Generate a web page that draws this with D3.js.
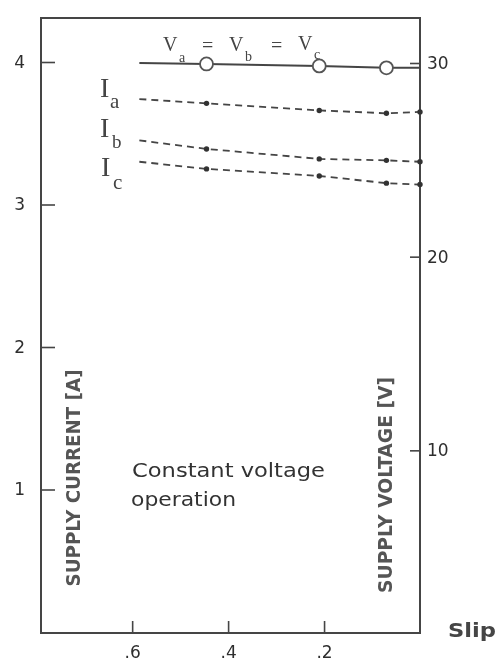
<!DOCTYPE html>
<html>
<head>
<meta charset="utf-8">
<script src="https://cdn.jsdelivr.net/npm/d3@7"></script>
<style>
  body { margin: 0; background: #fff; }
  svg { display: block; }
</style>
</head>
<body>
<svg id="chart" width="500" height="666"></svg>
<script>
// Measured points along the slip axis (slip decreases to the right)
const slip = [0.585, 0.445, 0.21, 0.07, 0];
// Supply voltage Va = Vb = Vc [V]
const voltage = [30.0, 29.95, 29.85, 29.75, 29.75];
// Phase supply currents [A]
const currentA = [3.74, 3.71, 3.66, 3.64, 3.65];
const currentB = [3.45, 3.39, 3.32, 3.31, 3.30];
const currentC = [3.30, 3.25, 3.20, 3.15, 3.14];

const slipTicks = [0.6, 0.4, 0.2];
const slipTickLabels = [".6", ".4", ".2"];
const currentTicks = [1, 2, 3, 4];
const voltageTicks = [10, 20, 30];

const ink = "#454545";
const svg = d3.select("#chart");

// soft scanned look
svg.append("defs").append("filter").attr("id", "soft")
  .append("feGaussianBlur").attr("stdDeviation", 0.55);
const g = svg.append("g").attr("filter", "url(#soft)");

const frameL = 41, frameR = 420, frameT = 18, frameB = 633;

const x = d3.scaleLinear().domain([0.79, 0]).range([frameL, frameR]);
const yI = d3.scaleLinear().domain([0, 4]).range([632, 62]);
const yV = d3.scaleLinear().domain([0, 30]).range([644, 63]);

// frame
g.append("rect")
  .attr("x", frameL).attr("y", frameT)
  .attr("width", frameR - frameL).attr("height", frameB - frameT)
  .attr("fill", "none").attr("stroke", ink).attr("stroke-width", 2);

const sans = "'DejaVu Sans', sans-serif";
const serif = "'Liberation Serif', 'DejaVu Serif', serif";

// left axis: supply current
const axL = g.append("g").attr("transform", `translate(${frameL},0)`)
  .call(d3.axisLeft(yI).tickValues(currentTicks).tickFormat(d3.format("d"))
    .tickSizeInner(-14).tickSizeOuter(0).tickPadding(16));
axL.select(".domain").remove();

// right axis: supply voltage
const axR = g.append("g").attr("transform", `translate(${frameR},0)`)
  .call(d3.axisRight(yV).tickValues(voltageTicks).tickFormat(d3.format("d"))
    .tickSizeInner(-10).tickSizeOuter(0).tickPadding(7));
axR.select(".domain").remove();

// bottom axis: slip
const axB = g.append("g").attr("transform", `translate(0,${frameB})`)
  .call(d3.axisBottom(x).tickValues(slipTicks)
    .tickFormat((d, i) => slipTickLabels[i])
    .tickSizeInner(-12).tickSizeOuter(0).tickPadding(13));
axB.select(".domain").remove();

[axL, axR, axB].forEach(a => {
  a.selectAll("line").attr("stroke", ink).attr("stroke-width", 1.6);
  a.selectAll("text").attr("fill", "#2e2e2e")
    .style("font-family", sans).style("font-size", "17px");
});

// current curves (dashed with small dot markers)
const lineI = d3.line().x((d, i) => x(slip[i])).y(d => yI(d));
[currentA, currentB, currentC].forEach(series => {
  g.append("path").datum(series)
    .attr("d", lineI)
    .attr("fill", "none").attr("stroke", ink)
    .attr("stroke-width", 1.8).attr("stroke-dasharray", "7,5");
  g.selectAll(null).data(series.slice(1)).enter().append("circle")
    .attr("cx", (d, i) => x(slip[i + 1]))
    .attr("cy", d => yI(d))
    .attr("r", 2.7).attr("fill", "#333");
});

// voltage curve (solid with open circles)
const lineV = d3.line().x((d, i) => x(slip[i])).y(d => yV(d));
g.append("path").datum(voltage)
  .attr("d", lineV)
  .attr("fill", "none").attr("stroke", ink).attr("stroke-width", 2);
g.selectAll(null).data(voltage.slice(1, 4)).enter().append("circle")
  .attr("cx", (d, i) => x(slip[i + 1]))
  .attr("cy", d => yV(d))
  .attr("r", 6.5).attr("fill", "#fff")
  .attr("stroke", "#555").attr("stroke-width", 1.8);

// curve labels: main letter and subscript as separate pieces
function label(xp, yp, txt, size) {
  g.append("text").attr("x", xp).attr("y", yp)
    .attr("fill", "#444").style("font-family", serif)
    .style("font-size", size + "px").text(txt);
}
label(100, 97, "I", 28);  label(110, 108, "a", 21);
label(100, 137, "I", 28); label(112, 148, "b", 19);
label(101, 176, "I", 28); label(113, 189, "c", 21);

label(163, 51, "V", 20);  label(179, 62, "a", 14);
label(202, 52, "=", 20);
label(229, 51, "V", 20);  label(245, 61, "b", 14);
label(271, 52, "=", 20);
label(298, 50, "V", 20);  label(314, 59, "c", 14);

// annotation
g.append("text").attr("x", 132).attr("y", 477).attr("fill", "#333")
  .style("font-family", sans).style("font-size", "19px")
  .attr("textLength", 193).attr("lengthAdjust", "spacingAndGlyphs")
  .text("Constant voltage");
g.append("text").attr("x", 131).attr("y", 506).attr("fill", "#333")
  .style("font-family", sans).style("font-size", "19px")
  .attr("textLength", 105).attr("lengthAdjust", "spacingAndGlyphs")
  .text("operation");

// axis titles
g.append("text")
  .attr("transform", "translate(80,478) rotate(-90)")
  .attr("text-anchor", "middle").attr("fill", "#555")
  .style("font-family", sans).style("font-size", "19px").style("font-weight", "bold")
  .attr("textLength", 217).attr("lengthAdjust", "spacingAndGlyphs")
  .text("SUPPLY CURRENT [A]");
g.append("text")
  .attr("transform", "translate(392,485) rotate(-90)")
  .attr("text-anchor", "middle").attr("fill", "#555")
  .style("font-family", sans).style("font-size", "19px").style("font-weight", "bold")
  .attr("textLength", 216).attr("lengthAdjust", "spacingAndGlyphs")
  .text("SUPPLY VOLTAGE [V]");
g.append("text").attr("x", 448).attr("y", 637).attr("fill", "#444")
  .style("font-family", sans).style("font-size", "20px").style("font-weight", "bold")
  .attr("textLength", 48).attr("lengthAdjust", "spacingAndGlyphs")
  .text("Slip");
</script>
</body>
</html>
